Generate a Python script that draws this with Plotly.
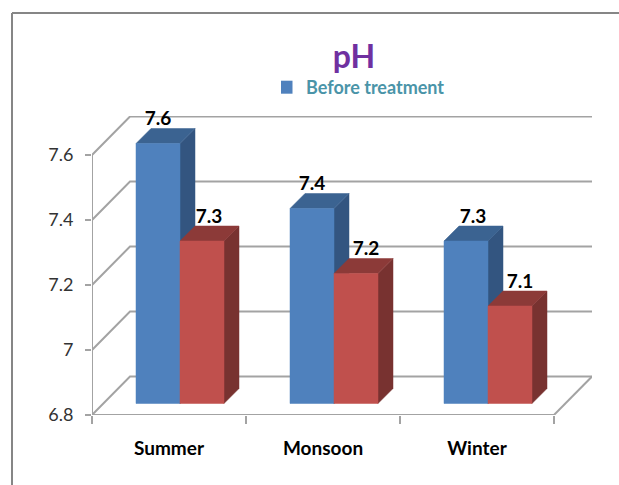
import plotly.graph_objects as go

categories = ["Summer", "Monsoon", "Winter"]
before_treatment = [7.6, 7.4, 7.3]
after_treatment = [7.3, 7.2, 7.1]
y_ticks = [6.8, 7.0, 7.2, 7.4, 7.6]
y_tick_labels = ["6.8", "7", "7.2", "7.4", "7.6"]

# geometry, in pixels of the 619x485 page
PLOT_L, PLOT_R, PLOT_T, PLOT_B = 92, 592, 116, 415
PX_PER_X = 154.0
PX_PER_Y = 325.0
Y_MIN = 6.8

def ux(px): return px / PX_PER_X
def uy(px): return px / PX_PER_Y

WALL_DX, WALL_DY = ux(38), uy(38.5)
FRONT_DX, FRONT_DY = ux(44), uy(11.5)
BAR_W = ux(44)
DEPTH_DX, DEPTH_DY = ux(15), uy(15)

X_MAX = (PLOT_R - PLOT_L) / PX_PER_X
Y_MAX = Y_MIN + (PLOT_B - PLOT_T) / PX_PER_Y

GRID = "#A3A3A3"
FONT = "Lato"
SERIES = [
    ("Before treatment", before_treatment, "#4F81BD", "#3B6391", "#335580", 0),
    ("After treatment", after_treatment, "#C0504D", "#8C3A38", "#783230", 1),
]
# horizontal nudge of each data label, px, per series then category
LABEL_NUDGE = [[0, 0, 7], [7, 10, 10]]

fig = go.Figure()

def line(xs, ys, color=GRID, width=2):
    fig.add_trace(go.Scatter(x=xs, y=ys, mode="lines", line=dict(color=color, width=width),
                             hoverinfo="skip", showlegend=False, cliponaxis=False))

def face(xs, ys, color):
    fig.add_trace(go.Scatter(x=xs + xs[:1], y=ys + ys[:1], mode="lines", fill="toself",
                             fillcolor=color, line=dict(color=color, width=0.5),
                             hoverinfo="skip", showlegend=False, cliponaxis=False))

# back wall and floor grid lines
for v in y_ticks:
    line([0, WALL_DX, 3 + WALL_DX], [v, v + WALL_DY, v + WALL_DY])
line([3, 3 + WALL_DX], [Y_MIN, Y_MIN + WALL_DY])
line([0, 3], [Y_MIN, Y_MIN])
line([0, 0], [Y_MIN, max(y_ticks)])

# bars
for i in range(len(categories)):
    for name, values, front, top, side, s in SERIES:
        v = values[i]
        x0 = i + FRONT_DX + s * BAR_W
        x1 = x0 + BAR_W
        base = Y_MIN + FRONT_DY
        y1 = v + FRONT_DY
        face([x1, x1 + DEPTH_DX, x1 + DEPTH_DX, x1],
             [base, base + DEPTH_DY, y1 + DEPTH_DY, y1], side)
        face([x0, x1, x1 + DEPTH_DX, x0 + DEPTH_DX],
             [y1, y1, y1 + DEPTH_DY, y1 + DEPTH_DY], top)
        face([x0, x1, x1, x0], [base, base, y1, y1], front)

# data labels
for name, values, front, top, side, s in SERIES:
    xs = [i + FRONT_DX + s * BAR_W + BAR_W / 2 + ux(LABEL_NUDGE[s][i]) for i in range(len(values))]
    ys = [v + FRONT_DY + DEPTH_DY + uy(8) for v in values]
    fig.add_trace(go.Scatter(x=xs, y=ys, mode="text", text=[f"{v:g}" for v in values],
                             textposition="middle center",
                             textfont=dict(family=FONT, size=19, color="#000000", weight="bold"),
                             hoverinfo="skip", showlegend=False, cliponaxis=False))

# legend key
fig.add_trace(go.Scatter(x=[None], y=[None], mode="markers", name="Before treatment",
                         marker=dict(symbol="square", size=13, color="#4F81BD"), showlegend=True))

def paper_x(px): return (px - PLOT_L) / (PLOT_R - PLOT_L)
def paper_y(px): return (PLOT_B - px) / (PLOT_B - PLOT_T)

BORDER = dict(color="#868686", width=2)
fig.add_shape(type="line", xref="paper", yref="paper", x0=paper_x(12), x1=paper_x(619),
              y0=paper_y(13), y1=paper_y(13), line=BORDER)
fig.add_shape(type="line", xref="paper", yref="paper", x0=paper_x(12), x1=paper_x(12),
              y0=paper_y(13), y1=paper_y(485), line=BORDER)

fig.update_layout(
    width=619, height=485, autosize=False,
    margin=dict(l=PLOT_L, r=619 - PLOT_R, t=PLOT_T, b=485 - PLOT_B, pad=0),
    paper_bgcolor="white", plot_bgcolor="white",
    title=dict(text="pH", x=354 / 619, y=1 - 57 / 485, xanchor="center", yanchor="middle",
               xref="container", yref="container",
               font=dict(family=FONT, size=32, color="#7030A0", weight="bold")),
    legend=dict(x=paper_x(281), y=paper_y(69), xanchor="left", yanchor="top",
                bgcolor="rgba(0,0,0,0)", itemwidth=30, tracegroupgap=0, indentation=-15,
                font=dict(family=FONT, size=18, color="#4A94A8", weight="bold")),
    xaxis=dict(range=[0, X_MAX], showgrid=False, zeroline=False, showline=False,
               tickmode="array", tickvals=[0.5, 1.5, 2.5], ticktext=categories,
               ticks="outside", ticklen=0, ticklabelstandoff=16,
               tickfont=dict(family=FONT, size=19, color="#000000", weight="bold"),
               minor=dict(tickmode="array", tickvals=[0, 1, 2, 3], ticks="outside",
                          ticklen=8, tickwidth=2, tickcolor=GRID, showgrid=False)),
    yaxis=dict(range=[Y_MIN, Y_MAX], showgrid=False, zeroline=False, showline=False,
               tickmode="array", tickvals=y_ticks, ticktext=y_tick_labels,
               ticks="outside", ticklen=6, tickwidth=2, tickcolor=GRID, ticklabelstandoff=8,
               tickfont=dict(family=FONT, size=18, color="#333333")),
)

fig.write_html("out.html", config={"displayModeBar": False},
               post_script="document.body.style.margin='0';")
